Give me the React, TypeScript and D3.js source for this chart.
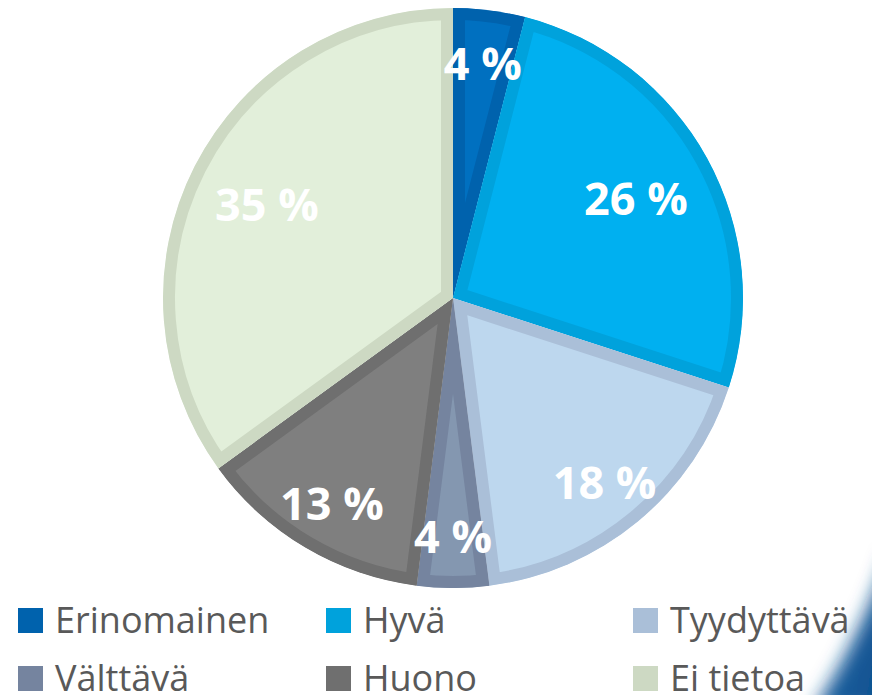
import React, { useRef, useEffect } from "react";
import * as d3 from "d3";

const categories = ["Erinomainen", "Hyvä", "Tyydyttävä", "Välttävä", "Huono", "Ei tietoa"];
const values = [4, 26, 18, 4, 13, 35];
const fills = ["#0070c0", "#00b0f0", "#bdd7ee", "#8497b0", "#7f7f7f", "#e2efda"];
const borders = ["#0062ad", "#00a2dc", "#aabfd8", "#75849f", "#6f6f6f", "#cdd9c3"];

const W = 872;
const H = 695;

const App: React.FC = () => {
  const ref = useRef<SVGSVGElement>(null);

  useEffect(() => {
    if (!ref.current) return;
    const svg = d3.select(ref.current);
    svg.selectAll("*").remove();

    const defs = svg.append("defs");

    // corner decoration (slide background)
    const grad = defs
      .append("linearGradient")
      .attr("id", "cornerGrad")
      .attr("x1", "0")
      .attr("y1", "0")
      .attr("x2", "1")
      .attr("y2", "0.3");
    grad.append("stop").attr("offset", "0").attr("stop-color", "#8fb2d6");
    grad.append("stop").attr("offset", "0.4").attr("stop-color", "#1c5e9c");
    grad.append("stop").attr("offset", "1").attr("stop-color", "#0d5190");
    defs
      .append("filter")
      .attr("id", "blur")
      .attr("x", "-50%")
      .attr("y", "-50%")
      .attr("width", "200%")
      .attr("height", "200%")
      .append("feGaussianBlur")
      .attr("stdDeviation", 9);

    svg
      .append("path")
      .attr("d", "M 890 550 Q 862 635 812 712 L 900 712 Z")
      .attr("fill", "url(#cornerGrad)")
      .attr("filter", "url(#blur)");

    const cx = 453;
    const cy = 298;
    const R = 290;

    const pie = d3
      .pie<number>()
      .sort(null)
      .value((d) => d);
    const arcs = pie(values);
    const arc = d3.arc<d3.PieArcDatum<number>>().innerRadius(0).outerRadius(R);

    const g = svg.append("g").attr("transform", `translate(${cx},${cy})`);

    // each slice gets an inner border in a darker shade (stroke clipped to the slice)
    arcs.forEach((a, i) => {
      defs.append("clipPath").attr("id", `clip${i}`).append("path").attr("d", arc(a)!);
      g.append("path")
        .attr("d", arc(a)!)
        .attr("fill", fills[i])
        .attr("stroke", borders[i])
        .attr("stroke-width", 24)
        .attr("clip-path", `url(#clip${i})`);
    });

    arcs.forEach((a) => {
      const mid = (a.startAngle + a.endAngle) / 2;
      const lr = a.data >= 25 ? R * 0.72 : R * 0.82;
      g.append("text")
        .attr("x", Math.sin(mid) * lr)
        .attr("y", -Math.cos(mid) * lr)
        .attr("text-anchor", "middle")
        .attr("dominant-baseline", "central")
        .attr("font-family", "'Open Sans', sans-serif")
        .attr("font-weight", 700)
        .attr("font-size", 45)
        .attr("fill", "#ffffff")
        .text(`${a.data} %`);
    });

    // legend
    const colX = [18, 326, 633];
    const rowY = [608, 666];
    categories.forEach((c, i) => {
      const col = i % 3;
      const row = Math.floor(i / 3);
      const lg = svg.append("g").attr("transform", `translate(${colX[col]},${rowY[row]})`);
      lg.append("rect").attr("width", 25).attr("height", 25).attr("fill", borders[i]);
      lg.append("text")
        .attr("x", 37)
        .attr("y", 25)
        .attr("font-family", "'Open Sans', sans-serif")
        .attr("font-size", 36)
        .attr("fill", "#595959")
        .text(c);
    });
  }, []);

  return (
    <svg
      ref={ref}
      width={W}
      height={H}
      style={{ position: "absolute", left: 0, top: 0, background: "#ffffff" }}
    />
  );
};

export default App;
